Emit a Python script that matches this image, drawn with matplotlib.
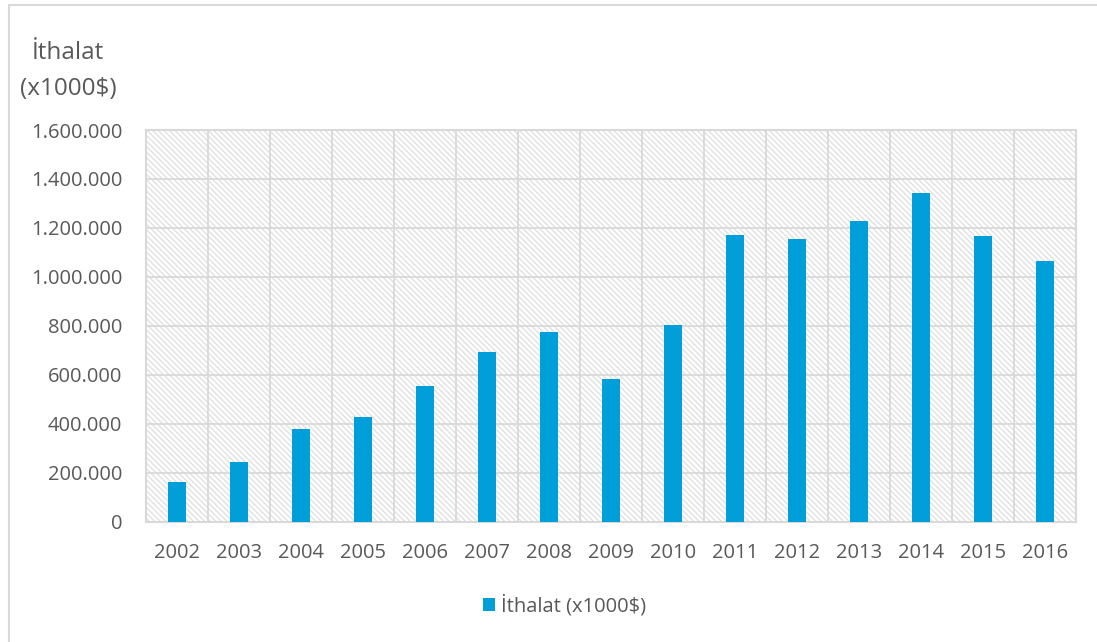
import matplotlib.pyplot as plt
from matplotlib.patches import Rectangle
from matplotlib.ticker import FuncFormatter
import numpy as np

# yearly import values (x1000 $)
years = ['2002', '2003', '2004', '2005', '2006', '2007', '2008', '2009',
         '2010', '2011', '2012', '2013', '2014', '2015', '2016']
imports = [163000, 245000, 380000, 429000, 555000, 694000, 776000, 584000,
           804000, 1171000, 1155000, 1229000, 1343000, 1167000, 1065000]
y_ticks = [0, 200000, 400000, 600000, 800000, 1000000, 1200000, 1400000, 1600000]

series_name = 'İthalat (x1000$)'
bar_color = '#009fda'
text_color = '#595959'
grid_color = '#d9d9d9'

plt.rcParams['font.family'] = ['Open Sans', 'DejaVu Sans']
plt.rcParams['hatch.color'] = '#dedede'
plt.rcParams['hatch.linewidth'] = 0.9

fig = plt.figure(figsize=(10.97, 6.42), dpi=100)
ax = fig.add_axes([0.1331, 0.187, 0.848, 0.6105])

# outer chart frame (only top and left edges fall inside the image)
fig.add_artist(Rectangle((0.0078, -0.05), 1.2, 1.0422, transform=fig.transFigure,
                         fill=False, edgecolor='#d9d9d9', linewidth=1.5))

# hatched plot background
ax.add_patch(Rectangle((0, 0), 1, 1, transform=ax.transAxes, facecolor='white',
                       hatch='\\' * 6, edgecolor='#dedede', linewidth=0, zorder=0))

x = np.arange(len(years))
ax.bar(x, imports, width=0.29, color=bar_color, zorder=3, label=series_name)

ax.set_xlim(-0.5, len(years) - 0.5)
ax.set_ylim(0, 1600000)
ax.set_yticks(y_ticks)
ax.yaxis.set_major_formatter(FuncFormatter(lambda v, p: f'{int(v):,}'.replace(',', '.')))
ax.set_xticks(x)
ax.set_xticklabels(years)

# gridlines: horizontal at ticks, vertical at category boundaries
ax.set_xticks(np.arange(-0.5, len(years)), minor=True)
ax.grid(True, axis='y', which='major', color=grid_color, linewidth=1.3, zorder=1)
ax.grid(True, axis='x', which='minor', color=grid_color, linewidth=1.3, zorder=1)
ax.set_axisbelow(True)

for s in ax.spines.values():
    s.set_color(grid_color)
    s.set_linewidth(1.5)

ax.tick_params(axis='both', which='both', length=0, labelsize=14.5, colors=text_color)
ax.tick_params(axis='x', pad=15)
ax.tick_params(axis='y', pad=17)

fig.text(0.062, 0.918, 'İthalat', ha='center', va='center', fontsize=17.5, color=text_color)
fig.text(0.062, 0.862, '(x1000$)', ha='center', va='center', fontsize=17.5, color=text_color)

leg = fig.legend(loc='center', bbox_to_anchor=(0.515, 0.057), frameon=False,
                 fontsize=14.5, handlelength=0.6, handleheight=0.6, handletextpad=0.3)
for t in leg.get_texts():
    t.set_color(text_color)

fig.savefig('out.png', dpi=100)
